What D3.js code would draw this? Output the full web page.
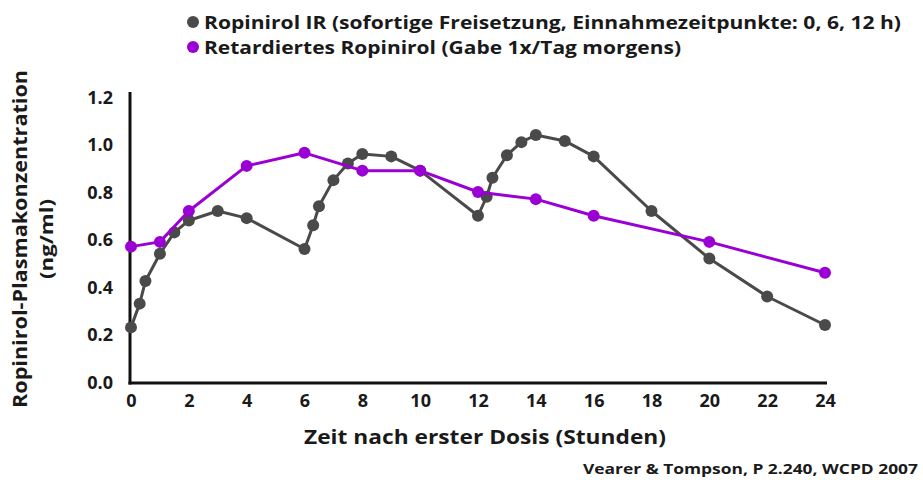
<!DOCTYPE html>
<html>
<head>
<meta charset="utf-8">
<script src="https://cdn.jsdelivr.net/npm/d3@7"></script>
<style>
  html, body { margin: 0; padding: 0; background: #fff; }
  svg { display: block; }
  text { font-family: "Open Sans", "DejaVu Sans", sans-serif; font-weight: 700; fill: #1a1a1a; }
</style>
</head>
<body>
<script>
// ---- data ----
const irHours = [0, 0.3, 0.5, 1, 1.5, 2, 3, 4, 6, 6.3, 6.5, 7, 7.5, 8, 9, 10, 12, 12.3, 12.5, 13, 13.5, 14, 15, 16, 18, 20, 22, 24];
const irValues = [0.23, 0.33, 0.425, 0.54, 0.63, 0.68, 0.72, 0.69, 0.56, 0.66, 0.74, 0.85, 0.92, 0.96, 0.95, 0.89, 0.70, 0.78, 0.86, 0.955, 1.01, 1.04, 1.015, 0.95, 0.72, 0.52, 0.36, 0.24];
const retHours = [0, 1, 2, 4, 6, 8, 10, 12, 14, 16, 20, 24];
const retValues = [0.57, 0.59, 0.72, 0.91, 0.965, 0.89, 0.89, 0.80, 0.77, 0.70, 0.59, 0.46];
const xTicks = [0, 2, 4, 6, 8, 10, 12, 14, 16, 18, 20, 22, 24];
const yTicks = [0, 0.2, 0.4, 0.6, 0.8, 1.0, 1.2];
const seriesNames = [
  "Ropinirol IR (sofortige Freisetzung, Einnahmezeitpunkte: 0, 6, 12 h)",
  "Retardiertes Ropinirol (Gabe 1x/Tag morgens)"
];
const seriesColors = ["#4a4a4a", "#9a00d4"];

const W = 923, H = 480;
const svg = d3.select("body").append("svg").attr("width", W).attr("height", H);

const x = d3.scaleLinear().domain([0, 24]).range([131, 825]);
const y = d3.scaleLinear().domain([0, 1.2]).range([382, 97]);

// axes lines
svg.append("line").attr("x1", 130).attr("x2", 130).attr("y1", 92).attr("y2", y(0) + 2.5)
  .attr("stroke", "#111").attr("stroke-width", 3);
svg.append("line").attr("x1", 128.5).attr("x2", x(24) + 2).attr("y1", y(0) + 1).attr("y2", y(0) + 1)
  .attr("stroke", "#111").attr("stroke-width", 3);

// y ticks
const yAxis = d3.axisLeft(y).tickValues(yTicks).tickSize(0).tickPadding(0)
  .tickFormat(d3.format(".1f"));
const gy = svg.append("g").attr("transform", "translate(113,0)").call(yAxis);
gy.select(".domain").remove();
gy.selectAll("text").style("font-size", "18px").style("font-family", "'Open Sans', sans-serif")
  .style("font-weight", 700).attr("fill", "#1a1a1a").attr("dy", "0.36em");

// x ticks
const xAxis = d3.axisBottom(x).tickValues(xTicks).tickSize(0).tickPadding(0);
const gx = svg.append("g").attr("transform", "translate(0,393)").call(xAxis);
gx.select(".domain").remove();
gx.selectAll("text").style("font-size", "18px").style("font-family", "'Open Sans', sans-serif")
  .style("font-weight", 700).attr("fill", "#1a1a1a").attr("dy", "0.75em");

// lines
const line = d3.line().x(d => x(d[0])).y(d => y(d[1]));
const irData = irHours.map((h, i) => [h, irValues[i]]);
const retData = retHours.map((h, i) => [h, retValues[i]]);

[irData, retData].forEach((data, si) => {
  const g = svg.append("g");
  g.append("path").datum(data).attr("d", line).attr("fill", "none")
    .attr("stroke", seriesColors[si]).attr("stroke-width", 3).attr("stroke-linejoin", "round");
  g.selectAll("circle").data(data).enter().append("circle")
    .attr("cx", d => x(d[0])).attr("cy", d => y(d[1])).attr("r", 6)
    .attr("fill", seriesColors[si]);
});

// legend
const leg = svg.append("g");
const legY = [22, 47];
const legW = [697, 477];
seriesNames.forEach((name, i) => {
  leg.append("circle").attr("cx", 193).attr("cy", legY[i]).attr("r", 6).attr("fill", seriesColors[i]);
  leg.append("text").attr("x", 204).attr("y", legY[i]).attr("dy", "0.36em")
    .style("font-size", "18.5px").attr("textLength", legW[i]).attr("lengthAdjust", "spacingAndGlyphs")
    .text(name);
});

// axis titles
svg.append("text").attr("transform", "translate(20,239) rotate(-90)").attr("text-anchor", "middle")
  .attr("dy", "0.36em").style("font-size", "19px").attr("textLength", 338).attr("lengthAdjust", "spacingAndGlyphs")
  .text("Ropinirol-Plasmakonzentration");
svg.append("text").attr("transform", "translate(47,239) rotate(-90)").attr("text-anchor", "middle")
  .attr("dy", "0.36em").style("font-size", "18px").attr("textLength", 80).attr("lengthAdjust", "spacingAndGlyphs")
  .text("(ng/ml)");
svg.append("text").attr("x", 485).attr("y", 437).attr("text-anchor", "middle").attr("dy", "0.36em")
  .style("font-size", "20px").attr("textLength", 362).attr("lengthAdjust", "spacingAndGlyphs")
  .text("Zeit nach erster Dosis (Stunden)");

// source
svg.append("text").attr("x", 918).attr("y", 469).attr("text-anchor", "end").attr("dy", "0.36em")
  .style("font-size", "13.5px").attr("textLength", 335).attr("lengthAdjust", "spacingAndGlyphs")
  .text("Vearer & Tompson, P 2.240, WCPD 2007");
</script>
</body>
</html>
